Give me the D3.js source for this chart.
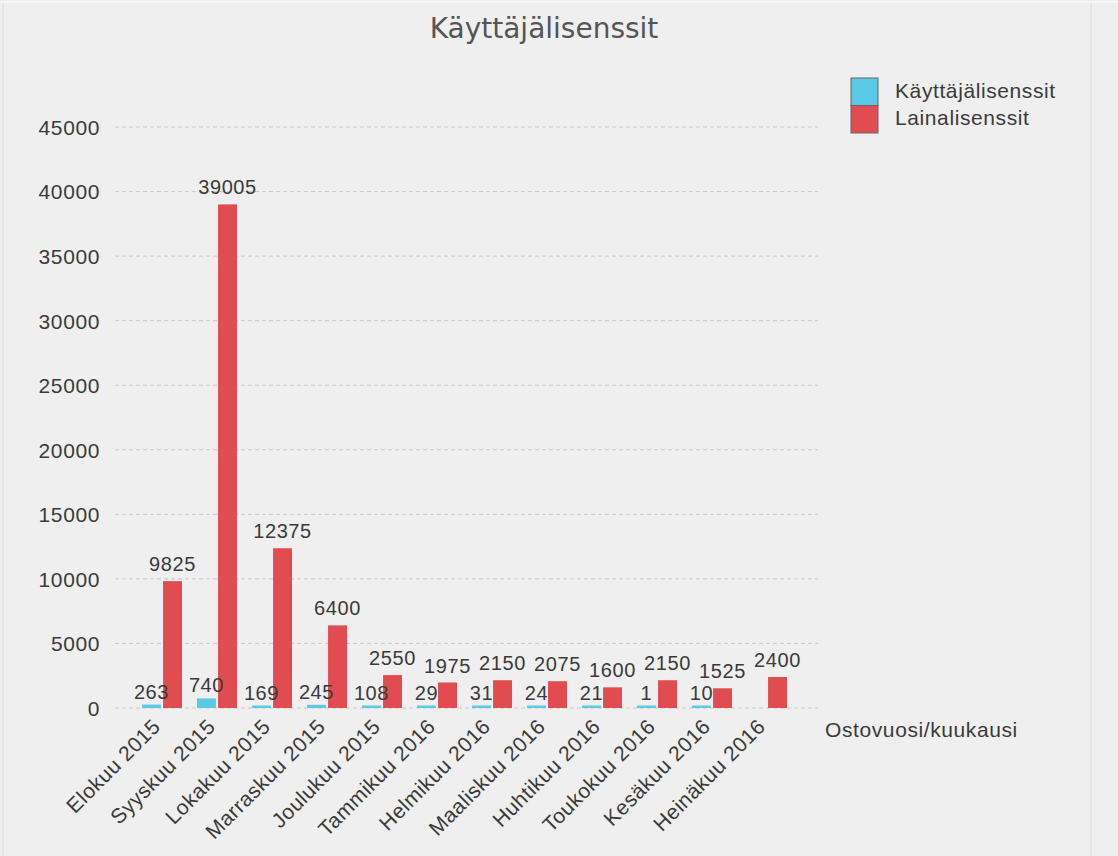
<!DOCTYPE html>
<html><head><meta charset="utf-8">
<script src="https://cdn.jsdelivr.net/npm/d3@7"></script>
<style>
html,body{margin:0;padding:0;background:#efefef;}
svg{display:block;}
text{font-family:"Liberation Sans",Arial,sans-serif;fill:#3a3a3a;}
</style></head><body>
<svg id="c" width="1118" height="856"></svg>
<script>
const categories = ["Elokuu 2015","Syyskuu 2015","Lokakuu 2015","Marraskuu 2015","Joulukuu 2015","Tammikuu 2016","Helmikuu 2016","Maaliskuu 2016","Huhtikuu 2016","Toukokuu 2016","Kesäkuu 2016","Heinäkuu 2016"];
const seriesNames = ["Käyttäjälisenssit","Lainalisenssit"];
const kayttajaValues = [263,740,169,245,108,29,31,24,21,1,10,null];
const lainaValues = [9825,39005,12375,6400,2550,1975,2150,2075,1600,2150,1525,2400];
const yTicks = [0,5000,10000,15000,20000,25000,30000,35000,40000,45000];
const colors = ["#5bc9e6","#e04c4f"];
const title = "Käyttäjälisenssit";
const xTitle = "Ostovuosi/kuukausi";

const svg = d3.select("#c");
// frame lines
svg.append("line").attr("x1",3).attr("x2",3).attr("y1",0).attr("y2",856).attr("stroke","#e2e2e2").attr("stroke-width",1.5);
svg.append("line").attr("x1",1091).attr("x2",1091).attr("y1",0).attr("y2",856).attr("stroke","#e2e2e2").attr("stroke-width",1.5);
svg.append("line").attr("x1",0).attr("x2",1118).attr("y1",2).attr("y2",2).attr("stroke","#f7f7f7").attr("stroke-width",2);

svg.append("text").attr("x",544).attr("y",38).attr("text-anchor","middle")
  .style("font-family","'DejaVu Sans',sans-serif").style("font-size","28px").style("fill","#555").text(title);

const y = d3.scaleLinear().domain([0,45000]).range([708,127]);
const x = d3.scaleBand().domain(categories).range([135,795]).paddingInner(0).paddingOuter(0);
const inner = d3.scaleBand().domain([0,1]).range([7,47]).paddingInner(0.1);

// grid
const grid = svg.append("g");
grid.selectAll("line").data(yTicks).join("line")
  .attr("x1",115).attr("x2",818).attr("y1",d=>y(d)).attr("y2",d=>y(d))
  .attr("stroke","#c8c8c8").attr("stroke-dasharray","4,3").attr("stroke-width",1);

// y axis labels
const yAxis = d3.axisLeft(y).tickValues(yTicks).tickSize(0).tickPadding(0).tickFormat(d3.format("d"));
const ya = svg.append("g").attr("transform","translate(100,0)").call(yAxis);
ya.select(".domain").remove();
ya.selectAll("text").style("font-size","21px").style("letter-spacing","0.6px").style("fill","#3a3a3a")
  .style("font-family","'Liberation Sans',Arial,sans-serif").attr("dy","0.35em");

// bars
const series = [kayttajaValues, lainaValues];
const labelGap = [6, 10];
const barData = series.map((vals, si) => categories.map((c,i)=>({c, v: vals[i], si})).filter(d=>d.v!=null));
const barTop = d => Math.min(y(d.v), y(0)-2.5);
barData.forEach((data, si) => {
  svg.append("g").selectAll("rect").data(data).join("rect")
    .attr("x", d=>x(d.c)+inner(si))
    .attr("width", inner.bandwidth())
    .attr("y", barTop)
    .attr("height", d=>y(0)-barTop(d))
    .attr("fill", colors[si]);
});
barData.forEach((data, si) => {
  svg.append("g").selectAll("text").data(data).join("text")
    .attr("x", d=>x(d.c)+inner(si)+inner.bandwidth()/2)
    .attr("y", d=>barTop(d)-labelGap[si])
    .attr("text-anchor","middle")
    .style("font-size","20px").style("letter-spacing","0.6px")
    .text(d=>d.v);
});

// x labels
const xa = svg.append("g");
xa.selectAll("text").data(categories).join("text")
  .attr("transform", d=>`translate(${x(d)+x.bandwidth()/2-1},728) rotate(-45)`)
  .attr("text-anchor","end")
  .style("font-size","21px").style("letter-spacing","0.5px")
  .text(d=>d);

svg.append("text").attr("x",825).attr("y",737).style("font-size","21px").style("letter-spacing","0.6px").text(xTitle);

// legend
const lg = svg.append("g");
seriesNames.forEach((n,i)=>{
  lg.append("rect").attr("x",851).attr("y",78+i*27.5).attr("width",27).attr("height",27.5)
    .attr("fill",colors[i]).attr("stroke","#666").attr("stroke-width",1);
  lg.append("text").attr("x",895).attr("y",98+i*27).style("font-size","21px").style("letter-spacing","0.6px").text(n);
});
</script></body></html>
